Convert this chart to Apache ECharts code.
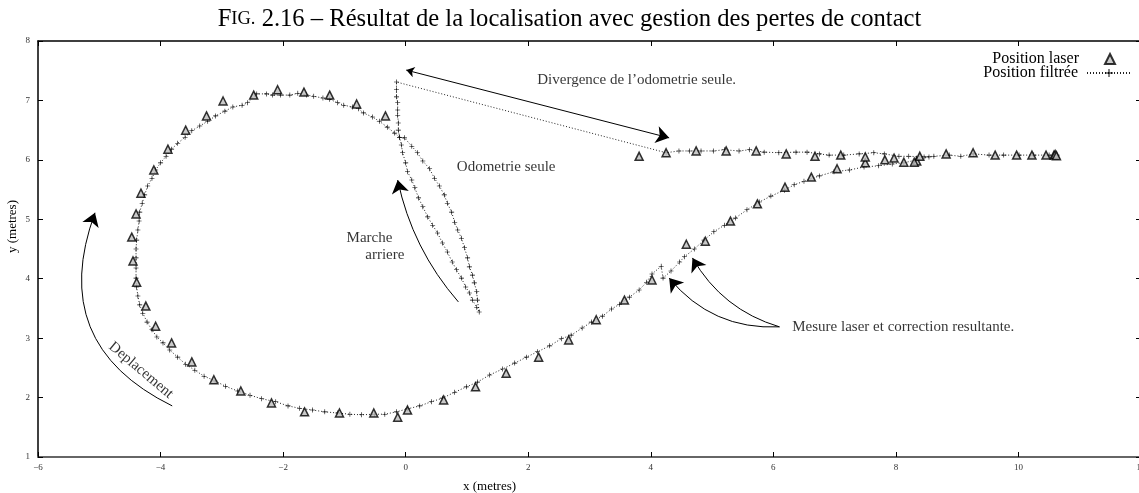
<!DOCTYPE html>
<html>
<head>
<meta charset="utf-8">
<script src="https://cdn.jsdelivr.net/npm/echarts@6/dist/echarts.min.js"></script>
<style>
  html, body { margin: 0; padding: 0; background: #fff; }
  #main { width: 1139px; height: 493px; }
</style>
</head>
<body>
<div id="main"></div>
<script>
// mesures laser (triangles)
const laserLower = [[8.34,5.98],[8.30,5.96],[8.13,5.96],[7.82,6.00],[7.50,5.95],[7.04,5.85],[6.62,5.71],[6.19,5.54],[5.74,5.26],[5.30,4.97],[4.89,4.63],[4.58,4.58],[4.02,3.98],[3.57,3.64],[3.11,3.31],[2.66,2.97],[2.17,2.68],[1.64,2.41],[1.14,2.18],[0.62,1.96],[0.03,1.79],[-0.13,1.67],[-0.52,1.74],[-1.08,1.74],[-1.65,1.76],[-2.19,1.91],[-2.69,2.11],[-3.13,2.30]];
const laserLoop = [[-3.49,2.60],[-3.82,2.92],[-4.08,3.20],[-4.24,3.54],[-4.39,3.94],[-4.45,4.30],[-4.47,4.70],[-4.40,5.09],[-4.32,5.44],[-4.11,5.83],[-3.88,6.18],[-3.59,6.50],[-3.25,6.74],[-2.98,6.99],[-2.48,7.09],[-2.09,7.18],[-1.66,7.14],[-1.24,7.09],[-0.80,6.94],[-0.33,6.74]];
const laserUpper = [[3.81,6.06],[4.25,6.12],[4.74,6.15],[5.23,6.15],[5.72,6.15],[6.21,6.10],[6.68,6.06],[7.10,6.08],[7.50,6.05],[7.97,6.03],[8.39,6.06],[8.82,6.10],[9.26,6.12],[9.62,6.08],[9.97,6.08],[10.22,6.08],[10.45,6.08],[10.58,6.08],[10.60,6.09],[10.62,6.07]];

// position filtree : branche basse puis boucle
const filtLower = [[8.54,6.05],[8.34,6.00],[8.13,5.95],[7.94,5.93],[7.72,5.90],[7.48,5.88],[7.24,5.83],[6.99,5.80],[6.75,5.73],[6.50,5.64],[6.34,5.58],[6.18,5.49],[5.96,5.39],[5.77,5.29],[5.57,5.16],[5.38,5.02],[5.20,4.90],[5.03,4.79],[4.87,4.65],[4.71,4.50],[4.55,4.37],[4.47,4.28],[4.33,4.13],[4.20,4.01],[4.17,4.21],[4.02,4.08],[3.93,3.94],[3.81,3.81],[3.65,3.69],[3.49,3.57],[3.36,3.49],[3.21,3.37],[3.03,3.27],[2.88,3.17],[2.70,3.05],[2.54,2.99],[2.35,2.87],[2.15,2.77],[1.97,2.68],[1.78,2.58],[1.58,2.48],[1.37,2.38],[1.17,2.26],[0.99,2.18],[0.80,2.09],[0.60,1.99],[0.42,1.93],[0.23,1.86],[0.03,1.81],[-0.15,1.76],[-0.34,1.72],[-0.51,1.72],[-0.72,1.71],[-0.91,1.72],[-1.11,1.74],[-1.32,1.76],[-1.52,1.79],[-1.73,1.82],[-1.92,1.86],[-2.12,1.93],[-2.35,1.98],[-2.54,2.04],[-2.74,2.11],[-2.94,2.19],[-3.11,2.28],[-3.29,2.36],[-3.44,2.46],[-3.59,2.56],[-3.72,2.68],[-3.85,2.80],[-3.96,2.92],[-4.06,3.02],[-4.14,3.14],[-4.22,3.27],[-4.29,3.42],[-4.34,3.56],[-4.37,3.71],[-4.39,3.86],[-4.40,4.01],[-4.40,4.18],[-4.40,4.35],[-4.40,4.50],[-4.39,4.65],[-4.37,4.82],[-4.35,4.97],[-4.34,5.12],[-4.30,5.27],[-4.26,5.41],[-4.21,5.56],[-4.14,5.69],[-4.08,5.83],[-4.00,5.95],[-3.91,6.06],[-3.82,6.18],[-3.72,6.28],[-3.60,6.38],[-3.49,6.49],[-3.36,6.57],[-3.23,6.65],[-3.10,6.74],[-2.95,6.82],[-2.82,6.89],[-2.67,6.92],[-2.58,6.96],[-2.43,7.11],[-2.27,7.11],[-2.17,7.09],[-2.04,7.09],[-1.89,7.09],[-1.76,7.12],[-1.62,7.09],[-1.50,7.07],[-1.35,7.04],[-1.24,7.02],[-1.11,6.96],[-1.01,6.92],[-0.87,6.89],[-0.77,6.86],[-0.69,6.79],[-0.54,6.72],[-0.43,6.65],[-0.30,6.55],[-0.18,6.45],[-0.10,6.38]];
// marche avant jusqu'au point de rebroussement
const filtForward = [[-0.02,6.37],[0.10,6.23],[0.19,6.12],[0.28,5.98],[0.39,5.85],[0.47,5.69],[0.55,5.56],[0.63,5.41],[0.68,5.27],[0.75,5.12],[0.80,4.95],[0.85,4.82],[0.91,4.68],[0.96,4.52],[1.01,4.35],[1.04,4.20],[1.09,4.06],[1.12,3.93],[1.16,3.78],[1.17,3.64],[1.20,3.44]];
// marche arriere, odometrie seule
const filtBack = [[1.16,3.52],[1.09,3.64],[1.04,3.76],[0.98,3.86],[0.91,4.01],[0.83,4.15],[0.76,4.28],[0.68,4.45],[0.60,4.60],[0.52,4.77],[0.44,4.90],[0.36,5.04],[0.28,5.21],[0.21,5.36],[0.15,5.53],[0.10,5.66],[0.03,5.80],[0.00,5.95],[-0.05,6.12],[-0.07,6.25],[-0.10,6.38],[-0.12,6.50],[-0.12,6.62],[-0.13,6.75],[-0.13,6.84],[-0.13,6.96],[-0.15,7.06],[-0.15,7.18],[-0.15,7.31]];
// apres recalage laser
const filtUpper = [[4.25,6.12],[4.46,6.15],[4.63,6.15],[4.82,6.15],[5.02,6.15],[5.20,6.17],[5.44,6.15],[5.61,6.17],[5.85,6.13],[6.09,6.12],[6.37,6.13],[6.55,6.13],[6.75,6.10],[6.91,6.08],[7.15,6.08],[7.40,6.10],[7.64,6.12],[7.81,6.10],[8.05,6.06],[8.21,6.06],[8.46,6.05],[8.62,6.06],[8.87,6.08],[9.06,6.06],[9.27,6.10],[9.52,6.08],[9.76,6.08],[10.01,6.08],[10.25,6.08],[10.50,6.08],[10.63,6.08]];

// annotations
const noteTexts = ['Divergence de l’odometrie seule.', 'Odometrie seule', 'Marche', 'arriere', 'Mesure laser et correction resultante.', 'Deplacement'];
const notePos = [[3.77,7.34],[1.64,5.88],[-0.59,4.68],[-0.34,4.40],[8.12,3.19],[-4.32,2.46]];
const noteRotate = [0, 0, 0, 0, 0, -40];
// fleche double (divergence)
const divFrom = [0.01, 7.51];
const divTo = [4.30, 6.37];
// fleches courbes
const arrowFrom = [[-3.81,1.86],[0.86,3.61],[6.10,3.19],[6.10,3.19]];
const arrowTo = [[-5.07,5.11],[-0.13,5.66],[4.30,4.01],[4.68,4.35]];
const arrowBend = [0.45, 0.13, 0.25, 0.2];

const serif = 'Liberation Serif';
const chart = echarts.init(document.getElementById('main'));

function minus(v) {
    return String(v).replace('-', '\u2212');
}

chart.setOption({
    animation: false,
    backgroundColor: '#fff',
    title: {
        text: '{big|F}{small|IG.} 2.16 – Résultat de la localisation avec gestion des pertes de contact',
        left: 'center',
        top: 2,
        textStyle: {
            fontFamily: serif,
            fontWeight: 'normal',
            fontSize: 24.6,
            color: '#000',
            rich: {
                big: { fontFamily: serif, fontSize: 24.6, color: '#000' },
                small: { fontFamily: serif, fontSize: 18.5, color: '#000' }
            }
        }
    },
    legend: [{
        right: 18,
        top: 46,
        align: 'right',
        itemWidth: 10,
        itemHeight: 10,
        data: ['Position laser'],
        textStyle: { fontFamily: serif, fontSize: 16, color: '#000', padding: [0, 21, 0, 0] }
    }, {
        right: 2,
        top: 60,
        align: 'right',
        itemWidth: 44,
        itemHeight: 10,
        data: ['Position filtrée'],
        textStyle: { fontFamily: serif, fontSize: 16, color: '#000', padding: [0, 4, 0, 0] }
    }],
    grid: {
        left: 38,
        top: 41,
        width: 1103,
        height: 416,
        containLabel: false,
        outerBoundsMode: 'none'
    },
    graphic: [{
        type: 'text',
        left: 463,
        top: 480,
        style: { text: 'x (metres)', fontFamily: serif, fontSize: 13, fill: '#000' }
    }, {
        type: 'text',
        left: 6,
        top: 200,
        rotation: Math.PI / 2,
        originX: 0,
        originY: 0,
        style: { text: 'y (metres)', fontFamily: serif, fontSize: 13, fill: '#000' }
    }],
    xAxis: [{
        type: 'value',
        min: -6,
        max: 12,
        interval: 2,
        axisLine: { onZero: false, lineStyle: { color: '#666', width: 2 } },
        axisTick: { inside: true, length: 5, lineStyle: { color: '#000' } },
        axisLabel: { fontFamily: serif, fontSize: 9, color: '#333', margin: 6, formatter: minus },
        splitLine: { show: false }
    }, {
        type: 'value',
        position: 'top',
        min: -6,
        max: 12,
        interval: 2,
        axisLine: { onZero: false, lineStyle: { color: '#000', width: 1.5 } },
        axisTick: { inside: true, length: 5, lineStyle: { color: '#000' } },
        axisLabel: { show: false },
        splitLine: { show: false }
    }],
    yAxis: [{
        type: 'value',
        min: 1,
        max: 8,
        interval: 1,
        axisLine: { show: true, onZero: false, lineStyle: { color: '#000', width: 1.5 } },
        axisTick: { show: true, inside: true, length: 5, lineStyle: { color: '#000' } },
        axisLabel: { fontFamily: serif, fontSize: 9, color: '#333', margin: 8 },
        splitLine: { show: false }
    }, {
        type: 'value',
        position: 'right',
        min: 1,
        max: 8,
        interval: 1,
        axisLine: { show: false, onZero: false },
        axisTick: { show: true, inside: true, length: 5, lineStyle: { color: '#000' } },
        axisLabel: { show: false },
        splitLine: { show: false }
    }],
    series: [
        {
            name: 'Position filtrée',
            type: 'line',
            data: filtLower.concat(filtForward, filtBack, filtUpper),
            symbol: 'path://M0,4.4H10V5.6H0Z M4.4,0H5.6V10H4.4Z',
            symbolSize: 5,
            showAllSymbol: true,
            itemStyle: { color: '#000' },
            lineStyle: { color: '#222', width: 1, type: [1, 2] },
            z: 2
        },
        {
            name: 'Position laser',
            type: 'scatter',
            data: laserLower.concat(laserLoop, laserUpper),
            symbol: 'triangle',
            symbolSize: 8,
            itemStyle: { color: '#bbb', borderColor: '#000', borderWidth: 1.5 },
            z: 3
        },
        {
            name: 'notes',
            type: 'scatter',
            symbolSize: 0,
            silent: true,
            data: noteTexts.map(function (t, i) {
                return {
                    value: notePos[i],
                    name: t,
                    label: { rotate: noteRotate[i] }
                };
            }),
            label: {
                show: true,
                position: 'inside',
                formatter: '{b}',
                fontFamily: serif,
                fontSize: 15,
                color: '#000'
            },
            z: 4
        },
        {
            name: 'divergence',
            type: 'lines',
            coordinateSystem: 'cartesian2d',
            silent: true,
            symbol: ['arrow', 'arrow'],
            symbolSize: [8, 13],
            lineStyle: { color: '#000', width: 1, opacity: 1 },
            data: [{ coords: [divFrom, divTo] }],
            z: 4
        },
        {
            name: 'fleches',
            type: 'lines',
            coordinateSystem: 'cartesian2d',
            silent: true,
            symbol: ['none', 'arrow'],
            symbolSize: [8, 13],
            lineStyle: { color: '#000', width: 1, opacity: 1 },
            data: arrowFrom.map(function (p, i) {
                return { coords: [p, arrowTo[i]], lineStyle: { curveness: arrowBend[i] } };
            }),
            z: 4
        }
    ]
});
</script>
</body>
</html>
